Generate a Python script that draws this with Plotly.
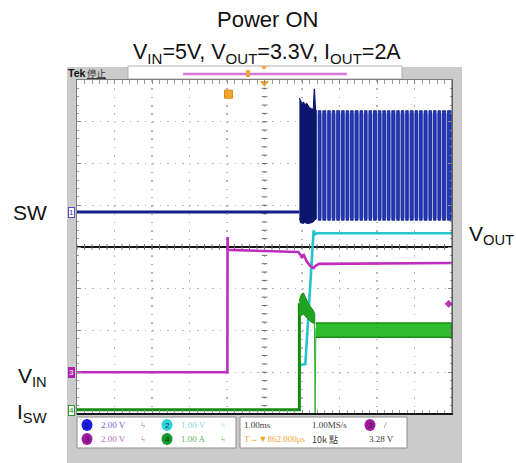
import numpy as np
import plotly.graph_objects as go

W, H = 516, 463

# ---------------- data ----------------
# time: ms relative to the screen centre (1.00 ms/div, 10 divisions)
# CH1  SW node voltage (2.00 V/div)
sw_base_t = [-5.0, 0.93]
sw_base_v = [0.0, 0.0]
sw_burst_t   = [0.93, 0.96, 1.00, 1.04, 1.08, 1.12, 1.16, 1.20, 1.25, 1.30, 1.325, 1.335, 1.36, 1.38]
sw_burst_top = [5.46, 5.31, 5.20, 5.27, 5.12, 5.22, 5.08, 5.00, 4.95, 4.92, 5.89, 5.89, 4.92, 4.88]
sw_burst_bot = [-0.30, -0.52, -0.55, -0.55, -0.50, -0.55, -0.55, -0.55, -0.52, -0.48, -0.42, -0.40, -0.35, -0.35]
sw_gap_t = [1.41, 1.53, 1.66, 1.78, 1.90, 2.03, 2.15, 2.27, 2.39, 2.52, 2.64, 2.76, 2.88, 3.01,
            3.13, 3.25, 3.37, 3.50, 3.62, 3.74, 3.86, 3.99, 4.11, 4.23, 4.36, 4.48, 4.60, 4.72, 4.85]
sw_pulse_high = 4.85
sw_pulse_low = -0.40

# CH2  VOUT (1.00 V/div)
vout_t = [-5.0, 0.93, 0.95, 1.09, 1.31, 1.34, 1.40, 5.0]
vout_v = [0.0, 0.0, 0.17, 0.20, 3.40, 3.30, 3.33, 3.33]

# CH3  VIN (2.00 V/div)
vin_t = [-5.0, -0.99, -0.985, -0.975, -0.95, 0.0, 0.90, 0.96, 1.00, 1.04, 1.12, 1.22, 1.31, 1.36, 1.45, 5.0]
vin_v = [0.0, 0.0, 6.48, 5.86, 5.86, 5.81, 5.76, 5.62, 5.47, 5.66, 5.33, 5.09, 4.99, 5.09, 5.19, 5.23]
trig_level = 3.28
trig_time = -0.96

# CH4  ISW (1.00 A/div)
isw_base_t = [-5.0, 0.93, 0.93]
isw_base_i = [0.0, 0.0, 2.55]
isw_burst_t   = [0.93, 0.96, 1.00, 1.04, 1.08, 1.12, 1.16, 1.20, 1.25, 1.30, 1.34]
isw_burst_top = [2.60, 2.72, 2.78, 2.80, 2.72, 2.62, 2.56, 2.50, 2.44, 2.38, 2.30]
isw_burst_bot = [2.20, 2.26, 2.27, 2.29, 2.24, 2.22, 2.18, 2.14, 2.10, 2.08, 2.05]
isw_dip_t = [1.33, 1.34, 1.35, 1.37]
isw_dip_i = [2.10, -0.10, -0.10, 1.95]
isw_ripple_t = [1.37, 5.0]
isw_ripple_top = [2.08, 2.08]
isw_ripple_bot = [1.74, 1.74]

# channel settings: (units per division, ground position in divisions from centre)
ch1_scale, ch1_pos = 2.0, 0.84
ch2_scale, ch2_pos = 1.0, -3.0
ch3_scale, ch3_pos = 2.0, -3.0
ch4_scale, ch4_pos = 1.0, -3.9

# ---------------- colours ----------------
C1 = '#13208a'
C1_BURST = '#0b166e'
C1_PULSE = '#2139c4'
C1_GAP = '#b9c2f0'
C2 = '#25c3cc'
C3 = '#bf2cc0'
C4 = '#1ea41e'
ORANGE = '#f2a530'
BEZEL = '#cbcbcb'

# plot-area pixel box
PX0, PX1, PY0, PY1 = 77, 452, 80, 414


def xp(px):
    return px / W


def yp(py):
    return 1 - py / H


def ch_range(scale, pos):
    return [(-4 - pos) * scale, (4 - pos) * scale]


fig = go.Figure()

# graticule centre ticks (base subplot)
fig.add_trace(go.Scatter(x=np.arange(-5, 5.001, 0.2), y=np.zeros(51), mode='markers',
                         marker=dict(symbol='line-ns', size=4, line=dict(width=1, color='#6a6a6a')),
                         hoverinfo='skip', xaxis='x', yaxis='y'))
fig.add_trace(go.Scatter(x=np.zeros(41), y=np.arange(-4, 4.001, 0.2), mode='markers',
                         marker=dict(symbol='line-ew', size=4, line=dict(width=1, color='#6a6a6a')),
                         hoverinfo='skip', xaxis='x', yaxis='y'))

# ---- CH4 ISW (drawn first, lowest) ----
fig.add_trace(go.Scatter(x=isw_base_t, y=isw_base_i, mode='lines',
                         line=dict(color='#138a13', width=3), yaxis='y5'))
fig.add_trace(go.Scatter(x=isw_burst_t + isw_burst_t[::-1], y=isw_burst_top + isw_burst_bot[::-1],
                         mode='lines', fill='toself', fillcolor=C4, line=dict(color='#178c17', width=1),
                         yaxis='y5'))
fig.add_trace(go.Scatter(x=isw_dip_t, y=isw_dip_i, mode='lines',
                         line=dict(color='#2bb02b', width=1), yaxis='y5'))
fig.add_trace(go.Scatter(x=isw_ripple_t + isw_ripple_t[::-1], y=isw_ripple_top + isw_ripple_bot[::-1],
                         mode='lines', fill='toself', fillcolor='#2dbd2d', line=dict(color='#168e16', width=1.4),
                         yaxis='y5'))

# ---- CH3 VIN ----
fig.add_trace(go.Scatter(x=vin_t, y=vin_v, mode='lines', line=dict(color=C3, width=2.6), yaxis='y4'))
fig.add_trace(go.Scatter(x=[4.91], y=[trig_level], mode='markers',
                         marker=dict(symbol='diamond', size=6, color=C3), yaxis='y4'))

# ---- CH2 VOUT ----
fig.add_trace(go.Scatter(x=vout_t[1:], y=vout_v[1:], mode='lines', line=dict(color=C2, width=2.6), yaxis='y3'))

# ---- CH1 SW ----
fig.add_trace(go.Scatter(x=sw_base_t, y=sw_base_v, mode='lines', line=dict(color=C1, width=3), yaxis='y2'))
fig.add_trace(go.Scatter(x=sw_burst_t + sw_burst_t[::-1], y=sw_burst_top + sw_burst_bot[::-1],
                         mode='lines', fill='toself', fillcolor=C1_BURST, line=dict(color=C1_BURST, width=1),
                         yaxis='y2'))
gap_w = 0.05
edges = sw_gap_t + [5.0]
# light background showing through the gaps
fig.add_trace(go.Bar(x=[(sw_gap_t[0] + 5.0) / 2], y=[sw_pulse_high - sw_pulse_low - 0.25],
                     base=[sw_pulse_low + 0.12], width=[5.0 - sw_gap_t[0]],
                     marker=dict(color=C1_GAP, line=dict(width=0)), yaxis='y2'))
lefts = [g + gap_w / 2 for g in sw_gap_t]
rights = [e - gap_w / 2 for e in edges[1:]]
fig.add_trace(go.Bar(x=[(a + b) / 2 for a, b in zip(lefts, rights)],
                     y=[sw_pulse_high - sw_pulse_low] * len(lefts),
                     base=[sw_pulse_low] * len(lefts),
                     width=[b - a for a, b in zip(lefts, rights)],
                     marker=dict(color=C1_PULSE, line=dict(color='#101c80', width=0.8)), yaxis='y2'))

# trigger markers (orange)
fig.add_trace(go.Scatter(x=[trig_time], y=[3.66], mode='markers',
                         marker=dict(symbol='square', size=8, color=ORANGE, line=dict(color='#e08a10', width=1)),
                         xaxis='x', yaxis='y'))
fig.add_trace(go.Scatter(x=[0.0], y=[3.93], mode='markers',
                         marker=dict(symbol='triangle-down', size=8, color=ORANGE),
                         xaxis='x', yaxis='y', cliponaxis=False))

axis_common = dict(showline=True, linecolor='#7d7d7d', linewidth=1, mirror='allticks',
                   ticks='inside', ticklen=4, tickcolor='#8a8a8a', showticklabels=False,
                   zeroline=False, fixedrange=True)

fig.update_layout(
    width=W, height=H, margin=dict(l=0, r=0, t=0, b=0),
    paper_bgcolor='white', plot_bgcolor='white', showlegend=False, barmode='overlay',
    xaxis=dict(domain=[xp(PX0), xp(PX1)], range=[-5, 5], dtick=1, tick0=0,
               showgrid=True, gridcolor='#b5b5b5', griddash='1.5px,6.85px', gridwidth=1.2,
               minor=dict(dtick=0.2, ticks='inside', ticklen=2, tickcolor='#9a9a9a', showgrid=False),
               **axis_common),
    yaxis=dict(domain=[yp(PY1), yp(PY0)], range=[-4, 4], dtick=1, tick0=0,
               showgrid=True, gridcolor='#b5b5b5', griddash='1.5px,6px', gridwidth=1.2,
               minor=dict(dtick=0.2, ticks='inside', ticklen=2, tickcolor='#9a9a9a', showgrid=False),
               **{**axis_common, 'zeroline': True}, zerolinecolor='#111111', zerolinewidth=1.6),
    yaxis2=dict(overlaying='y', range=ch_range(ch1_scale, ch1_pos), visible=False),
    yaxis3=dict(overlaying='y', range=ch_range(ch2_scale, ch2_pos), visible=False),
    yaxis4=dict(overlaying='y', range=ch_range(ch3_scale, ch3_pos), visible=False),
    yaxis5=dict(overlaying='y', range=ch_range(ch4_scale, ch4_pos), visible=False),
)

shapes = []
# scope bezel + white screen
shapes.append(dict(type='rect', xref='paper', yref='paper', x0=xp(67), x1=xp(462), y0=yp(463), y1=yp(67),
                   fillcolor=BEZEL, line=dict(width=0), layer='below'))
shapes.append(dict(type='rect', xref='paper', yref='paper', x0=xp(PX0), x1=xp(PX1), y0=yp(PY1), y1=yp(PY0),
                   fillcolor='white', line=dict(width=0), layer='below'))
# record-length bar on top
shapes.append(dict(type='rect', xref='paper', yref='paper', x0=xp(128), x1=xp(402), y0=yp(79), y1=yp(66),
                   fillcolor='white', line=dict(color='#b0b0b0', width=1), layer='below'))
shapes.append(dict(type='line', xref='paper', yref='paper', x0=xp(183), x1=xp(347), y0=yp(74), y1=yp(74),
                   line=dict(color='#d77ad7', width=2.5)))
shapes.append(dict(type='rect', xref='paper', yref='paper', x0=xp(246), x1=xp(250), y0=yp(77), y1=yp(70),
                   fillcolor=ORANGE, line=dict(width=0)))
shapes.append(dict(type='path', xref='paper', yref='paper',
                   path=f'M {xp(261)} {yp(66)} L {xp(267)} {yp(66)} L {xp(264)} {yp(70)} Z',
                   fillcolor=ORANGE, line=dict(width=0)))
# thick bottom frame line
shapes.append(dict(type='line', xref='paper', yref='paper', x0=xp(PX0), x1=xp(PX1 + 1), y0=yp(PY1), y1=yp(PY1),
                   line=dict(color='#151515', width=2)))
shapes.append(dict(type='line', xref='paper', yref='paper', x0=xp(PX1), x1=xp(PX1), y0=yp(PY1), y1=yp(PY0),
                   line=dict(color='#404040', width=1)))
# status boxes
for x0, x1 in [(77, 236), (240, 407)]:
    shapes.append(dict(type='rect', xref='paper', yref='paper', x0=xp(x0), x1=xp(x1), y0=yp(448), y1=yp(417),
                       fillcolor='white', line=dict(color='#8c8c8c', width=1)))

annotations = []


def ann(text, x, y, size=9, color='#333333', xanchor='left', family='Liberation Serif', **kw):
    annotations.append(dict(text=text, x=xp(x), y=yp(y), xref='paper', yref='paper', xanchor=xanchor,
                            yanchor='middle', showarrow=False,
                            font=dict(size=size, color=color, family=family), **kw))


def circle(cx, cy, color, label, tcolor='#202020'):
    shapes.append(dict(type='circle', xref='paper', yref='paper', x0=xp(cx - 5.5), x1=xp(cx + 5.5),
                       y0=yp(cy + 6), y1=yp(cy - 6), fillcolor=color, line=dict(width=0)))
    ann(label, cx, cy, size=8, color=tcolor, xanchor='center', family='Liberation Sans')


# status row 1 / row 2
circle(87, 425, '#1a1ae0', '1', '#101060')
ann('2.00 V', 99, 425, color='#6565cc')
ann('ϟ', 139, 425, color='#6565cc')
circle(167, 425, '#2cd4dc', '2', '#104040')
ann('1.00 V', 179, 425, color='#7fd8e0')
ann('ϟ', 219, 425, color='#7fd8e0')
circle(87, 439, '#a01aa0', '3', '#401040')
ann('2.00 V', 99, 439, color='#b56ac0')
ann('ϟ', 139, 439, color='#b56ac0')
circle(167, 439, '#0f9a2a', '4', '#063010')
ann('1.00 A', 179, 439, color='#5cb85c')
ann('ϟ', 219, 439, color='#5cb85c')

ann('1.00ms', 242, 425, color='#3a3a3a')
ann('1.00MS/s', 310, 425, color='#3a3a3a')
circle(370, 425, '#a01aa0', '3', '#401040')
ann('/', 382, 425, color='#3a3a3a')
ann('T→▼862.000μs', 242, 439, color=ORANGE)
ann('10k 點', 310, 439, color='#3a3a3a', family='Noto Sans CJK TC')
ann('3.28 V', 367, 439, color='#3a3a3a')

# Tek status
ann('<b>Tek</b>', 66, 73, size=10.5, color='#111111', family='Liberation Sans')
ann('<u>停止</u>', 85, 73, size=9.5, color='#333333', family='Noto Sans CJK TC')

# channel ground markers
ann('1', 71, 212, size=8, color='#2b2bb8', xanchor='center', family='Liberation Sans',
    bgcolor='white', bordercolor='#5050c0', borderwidth=1, borderpad=0)
ann('3', 71, 372, size=8, color='white', xanchor='center', family='Liberation Sans',
    bgcolor='#b020b0', bordercolor='#b020b0', borderwidth=1, borderpad=0)
ann('4', 71, 410, size=8, color='#1a8a1a', xanchor='center', family='Liberation Sans',
    bgcolor='white', bordercolor='#2a9a2a', borderwidth=1, borderpad=0)

# outside labels and titles
ann('Power ON', 267, 19, size=22, xanchor='center', family='Liberation Sans', color='#111111')
ann('V<sub>IN</sub>=5V, V<sub>OUT</sub>=3.3V, I<sub>OUT</sub>=2A', 267, 53, size=21.5, xanchor='center',
    family='Liberation Sans', color='#111111')
ann('SW', 49, 213, size=21, xanchor='right', family='Liberation Sans', color='#111111')
ann('V<sub>IN</sub>', 49, 377, size=21, xanchor='right', family='Liberation Sans', color='#111111')
ann('I<sub>SW</sub>', 49, 413, size=21, xanchor='right', family='Liberation Sans', color='#111111')
ann('V<sub>OUT</sub>', 467, 235, size=21, xanchor='left', family='Liberation Sans', color='#111111')

fig.update_layout(shapes=shapes, annotations=annotations)
fig.write_html('out.html', config={'displayModeBar': False, 'staticPlot': True},
               post_script="document.body.style.margin='0';document.body.style.overflow='hidden';")
